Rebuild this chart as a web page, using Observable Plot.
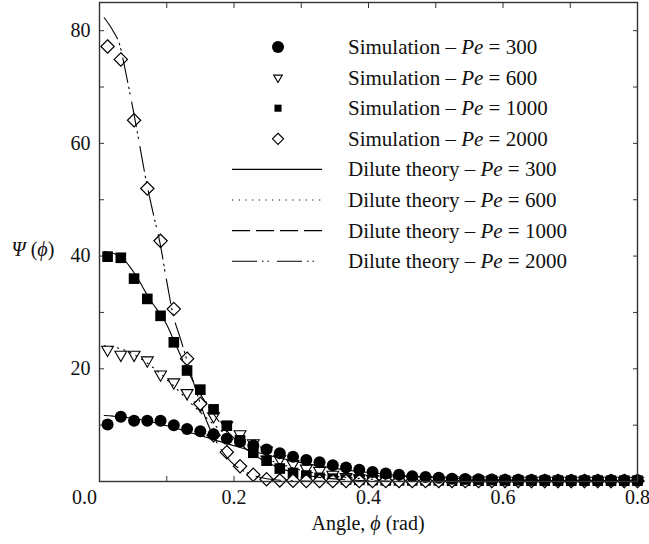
<!DOCTYPE html>
<html><head><meta charset="utf-8">
<script src="https://cdn.jsdelivr.net/npm/d3@7"></script>
<script src="https://cdn.jsdelivr.net/npm/@observablehq/plot@0.6"></script>
<style>body{margin:0;background:#fff}#chart{width:649px;height:544px}
#chart svg text{font-family:"Liberation Serif","DejaVu Serif","Noto Serif",serif !important}</style>
</head><body><div id="chart"></div>
<script>
// Simulation angles (rad)
const phi = [0.012,0.0317,0.0514,0.0711,0.0908,0.1105,0.1302,0.1499,0.1696,0.1893,0.209,0.2287,0.2484,0.2681,0.2878,0.3075,0.3272,0.3469,0.3666,0.3863,0.406,0.4257,0.4454,0.4651,0.4848,0.5045,0.5242,0.5439,0.5636,0.5833,0.603,0.6227,0.6424,0.6621,0.6818,0.7015,0.7212,0.7409,0.7606,0.7803,0.8];
const sim300 = [10.1,11.5,10.8,10.8,10.8,10.0,9.3,8.9,8.4,7.6,7.1,6.4,5.7,5.0,4.4,3.8,3.4,2.9,2.5,2.1,1.7,1.4,1.2,0.95,0.8,0.65,0.5,0.45,0.4,0.35,0.3,0.3,0.25,0.25,0.2,0.2,0.2,0.2,0.2,0.2,0.2];
const sim600 = [23.4,22.5,22.5,21.5,19.0,17.6,15.7,13.5,11.6,10.0,8.4,6.8,5.5,4.0,3.1,2.3,1.9,1.2,0.8,0.6,0.45,0.35,0.3,0.25,0.25,0.2,0.2,0.2,0.2,0.2,0.15,0.15,0.15,0.15,0.15,0.15,0.15,0.15,0.15,0.15,0.15];
const sim1000 = [39.9,39.7,36.0,32.4,29.4,24.7,19.7,16.3,12.8,9.9,7.3,5.1,3.7,2.3,1.5,1.05,0.65,0.5,0.35,0.3,0.25,0.2,0.2,0.2,0.2,0.2,0.15,0.15,0.15,0.15,0.15,0.15,0.15,0.15,0.15,0.15,0.15,0.15,0.15,0.15,0.15];
const sim2000 = [77.2,74.9,64.1,52.0,42.7,30.6,21.8,13.8,8.2,5.2,2.7,1.2,0.4,0.2,0.15,0.1,0.1,0.1,0.1,0.1,0.1,0.1,0.1,0.1,0.1,0.1,0.1,0.1,0.1,0.1,0.1,0.1,0.1,0.1,0.1,0.1,0.1,0.1,0.1,0.1,0.1];

// Dilute theory curves
const phiTheory = [0.007,0.02,0.03,0.04,0.05,0.06,0.07,0.08,0.09,0.10,0.11,0.12,0.13,0.14,0.15,0.16,0.17,0.18,0.19,0.20,0.22,0.24,0.26,0.28,0.30,0.32,0.34,0.36,0.38,0.40,0.45,0.50,0.55,0.60,0.65,0.70,0.75,0.80];
const th300 = [11.7,11.6,11.5,11.35,11.2,11.0,10.75,10.5,10.2,9.9,9.6,9.25,8.9,8.5,8.15,7.8,7.4,7.05,6.7,6.35,5.65,5.0,4.4,3.85,3.35,2.9,2.5,2.15,1.85,1.6,1.05,0.7,0.45,0.3,0.2,0.12,0.08,0.05];
const th600 = [24.1,23.9,23.6,23.2,22.6,21.9,21.1,20.2,19.2,18.1,17.0,15.8,14.6,13.4,12.3,11.2,10.1,9.1,8.2,7.3,5.8,4.5,3.5,2.7,2.0,1.5,1.1,0.8,0.6,0.45,0.2,0.08,0.03,0.01,0,0,0,0];
const th1000 = [40.8,40.5,40.0,38.9,37.3,35.4,33.3,31.4,29.8,27.8,25.2,22.5,20.0,17.6,15.5,13.6,11.9,10.3,8.9,7.7,5.6,4.0,2.8,1.9,1.3,0.85,0.55,0.35,0.22,0.14,0.04,0.01,0,0,0,0,0,0];
const th2000 = [82.3,80.0,77.5,72.0,66.0,59.5,53.0,47.5,42.3,35.5,29.3,25.5,21.5,17.5,13.8,10.5,7.9,5.8,4.2,3.0,1.5,0.7,0.3,0.15,0.07,0.03,0.01,0,0,0,0,0,0,0,0,0,0,0];

const xTicks = [0.1,0.2,0.3,0.4,0.5,0.6,0.7];
const xLabels = [0.2,0.4,0.6,0.8];
const yTicks = [10,20,30,40,50,60,70,80];
const yLabels = [20,40,60,80];
const legendSim = ["300","600","1000","2000"];
const legendTheory = ["300","600","1000","2000"];

const sim = v => phi.map((p,i) => ({phi:p, v:v[i]}));
const th = v => phiTheory.map((p,i) => ({phi:p, v:v[i]}));

const downTriangle = {draw(ctx, size){
  const y = Math.sqrt(size / (3*Math.sqrt(3)));
  ctx.moveTo(0, 2*y); ctx.lineTo(-Math.sqrt(3)*y, -y); ctx.lineTo(Math.sqrt(3)*y, -y); ctx.closePath();
}};

const dash1000 = "18,6";
const dash2000 = "25,5,1.5,4,1.5,8";
const dot600 = "1.2,5.5";
const ff = '"Liberation Serif","DejaVu Serif","Noto Serif",serif';

const plot = Plot.plot({
  width:649, height:544, marginLeft:99, marginRight:12, marginTop:2, marginBottom:63,
  style:{fontFamily:ff, fontSize:"20px", color:"#111", background:"#fff"},
  x:{domain:[0,0.8]}, y:{domain:[0,85]},
  marks:[
    Plot.axisX(xTicks, {anchor:"bottom", tickSize:-5, tickFormat:() => "", label:null, stroke:"#333"}),
    Plot.axisX(xTicks, {anchor:"top", tickSize:-5, tickFormat:() => "", label:null, stroke:"#333"}),
    Plot.axisY(yTicks, {anchor:"left", tickSize:-5, tickFormat:() => "", label:null, stroke:"#333"}),
    Plot.axisY(yTicks, {anchor:"right", tickSize:-5, tickFormat:() => "", label:null, stroke:"#333"}),
    Plot.axisX(xLabels, {anchor:"bottom", tickSize:0, tickPadding:8, fontSize:20, label:null}),
    Plot.axisX([0], {anchor:"bottom", tickSize:0, tickPadding:8, dx:-15, fontSize:20, label:null}),
    Plot.axisY(yLabels, {anchor:"left", tickSize:0, tickPadding:9, fontSize:20, label:null}),
    Plot.dot(sim(sim600), {x:"phi", y:"v", symbol:downTriangle, r:4.4, fill:"white", stroke:"black", strokeWidth:1.1}),
    Plot.dot(sim(sim1000), {x:"phi", y:"v", symbol:"square", r:6, fill:"black"}),
    Plot.dot(sim(sim2000), {x:"phi", y:"v", symbol:"diamond2", r:6, fill:"white", stroke:"black", strokeWidth:1.2}),
    Plot.dot(sim(sim300), {x:"phi", y:"v", symbol:"circle", r:6, fill:"black"}),
    Plot.line(th(th300), {x:"phi", y:"v", stroke:"black", strokeWidth:1.1, curve:"monotone-x"}),
    Plot.line(th(th600), {x:"phi", y:"v", stroke:"black", strokeWidth:1.1, strokeDasharray:dot600, curve:"monotone-x"}),
    Plot.line(th(th1000), {x:"phi", y:"v", stroke:"black", strokeWidth:1.1, strokeDasharray:dash1000, curve:"monotone-x"}),
    Plot.line(th(th2000), {x:"phi", y:"v", stroke:"black", strokeWidth:1.1, strokeDasharray:dash2000, curve:"monotone-x"}),
    Plot.frame({stroke:"#333", strokeWidth:1.4})
  ]
});
document.getElementById("chart").appendChild(plot);

const svg = d3.select(plot);
// axis labels
const yl = svg.append("text").attr("x",33).attr("y",256).attr("text-anchor","middle").attr("font-size",20).attr("fill","#111");
yl.append("tspan").attr("font-style","italic").text("Ψ");
yl.append("tspan").text(" (");
yl.append("tspan").attr("font-style","italic").text("ϕ");
yl.append("tspan").text(")");
const xl = svg.append("text").attr("x",368).attr("y",530).attr("text-anchor","middle").attr("font-size",20).attr("fill","#111");
xl.append("tspan").text("Angle, ");
xl.append("tspan").attr("font-style","italic").text("ϕ");
xl.append("tspan").text(" (rad)");

// legend
const lg = svg.append("g");
const rowY = i => 47 + 30.6*i;
const symSize = [Math.PI*36, Math.PI*10, Math.PI*16, Math.PI*25];
const symTypes = [d3.symbolCircle, downTriangle, d3.symbolSquare, d3.symbolDiamond2];
const symFill = ["black","white","black","white"];
legendSim.forEach((pe,i) => {
  lg.append("path").attr("transform",`translate(278,${rowY(i)})`)
    .attr("d", d3.symbol(symTypes[i], symSize[i])())
    .attr("fill", symFill[i]).attr("stroke", "black").attr("stroke-width", symFill[i]==="white"?1.1:0);
});
const dashes = [null, dot600, dash1000, dash2000];
legendTheory.forEach((pe,i) => {
  const l = lg.append("line").attr("x1",232).attr("x2",322).attr("y1",rowY(i+4)).attr("y2",rowY(i+4)).attr("stroke","black").attr("stroke-width",1.1);
  if (dashes[i]) l.attr("stroke-dasharray", dashes[i]);
});
const labels = legendSim.map(p => ["Simulation – ", p]).concat(legendTheory.map(p => ["Dilute theory – ", p]));
labels.forEach(([pre,pe],i) => {
  const t = lg.append("text").attr("x",348).attr("y",rowY(i)+7).attr("text-anchor","start").attr("font-size",21).attr("fill","#111");
  t.append("tspan").text(pre);
  t.append("tspan").attr("font-style","italic").text("Pe");
  t.append("tspan").text(" = " + pe);
});
</script></body></html>
